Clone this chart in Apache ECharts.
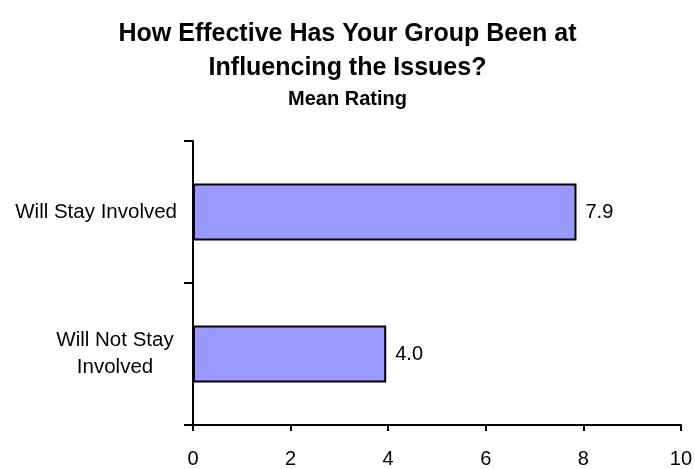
<!DOCTYPE html>
<html><head><meta charset="utf-8">
<script src="https://cdn.jsdelivr.net/npm/echarts@6/dist/echarts.min.js"></script>
<style>html,body{margin:0;padding:0;background:#fff}#c{width:695px;height:469px}</style>
</head><body><div id="c"></div>
<script>
var categories = ['Will Not Stay\nInvolved', 'Will Stay Involved'];
var meanRatings = [3.96, 7.86];
var xTicks = [0, 2, 4, 6, 8, 10];
var titleText = 'How Effective Has Your Group Been at\nInfluencing the Issues?';
var subtitleText = 'Mean Rating';

var chart = echarts.init(document.getElementById('c'));
var F = '"Liberation Sans", Arial, sans-serif';
chart.setOption({
  animation: false,
  title: {
    text: titleText, subtext: subtitleText, left: 'center', top: 12, itemGap: 2,
    textStyle: {fontFamily: F, fontSize: 25, fontWeight: 'bold', color: '#000', lineHeight: 34},
    subtextStyle: {fontFamily: F, fontSize: 20, fontWeight: 'bold', color: '#000', lineHeight: 24}
  },
  grid: {left: 193, right: 12, top: 141, bottom: 44},
  xAxis: {
    type: 'value', min: xTicks[0], max: xTicks[xTicks.length - 1], interval: 2,
    axisLine: {show: true, lineStyle: {color: '#000', width: 2}},
    axisTick: {show: true, length: 6, lineStyle: {color: '#000', width: 2}},
    axisLabel: {fontFamily: F, fontSize: 20, color: '#000', margin: 24, lineHeight: 20},
    splitLine: {show: false}
  },
  yAxis: {
    type: 'category', data: categories,
    axisLine: {lineStyle: {color: '#000', width: 2}},
    axisTick: {show: true, length: 9, lineStyle: {color: '#000', width: 2}},
    axisLabel: {
      fontFamily: F, fontSize: 20.5, color: '#000', align: 'right', margin: 16, lineHeight: 27,
      formatter: function (v) {
        var lines = v.split('\n');
        if (lines.length === 1) return v;
        return lines.map(function (l) { return '{c|' + l + '}'; }).join('\n');
      },
      rich: {c: {fontFamily: F, fontSize: 20.5, color: '#000', width: 124, align: 'center', lineHeight: 27}}
    }
  },
  series: [{
    type: 'bar', data: meanRatings, barWidth: '40%',
    itemStyle: {color: '#9999FF', borderColor: '#000', borderWidth: 2},
    label: {show: true, position: 'right', distance: 9, fontFamily: F, fontSize: 20, color: '#000',
      formatter: function (p) { return p.value.toFixed(1); }}
  }]
});
</script></body></html>
